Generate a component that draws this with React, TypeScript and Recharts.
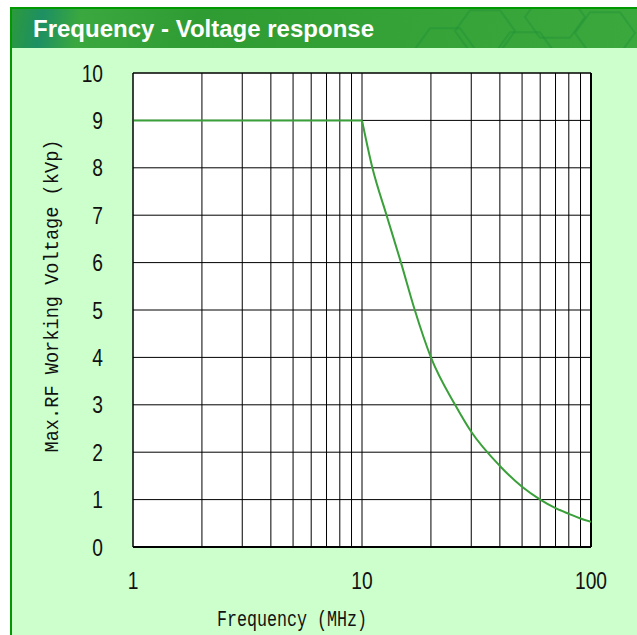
import { CartesianGrid, Label, Line, LineChart, ReferenceLine, XAxis, YAxis } from "recharts";

// values
const freqMHz = [1, 10, 11.1, 12.8, 14.8, 17, 20, 25.5, 30, 40, 50, 60, 70, 80, 90, 100];
const maxVoltage = [9, 9, 8, 7, 6, 5, 4, 3, 2.43, 1.71, 1.27, 1.0, 0.82, 0.7, 0.6, 0.53];
const rolloffStart = 10; // MHz, where the flat part ends

const xTicks = [1, 2, 3, 4, 5, 6, 7, 8, 9, 10, 20, 30, 40, 50, 60, 70, 80, 90, 100];
const xLabelled = [1, 10, 100];
const yTicks = [0, 1, 2, 3, 4, 5, 6, 7, 8, 9, 10];

// flat part drawn straight, roll-off drawn smooth
const chartData = freqMHz.map((f, i) => ({
  f,
  flat: f <= rolloffStart ? maxVoltage[i] : null,
  rolloff: f >= rolloffStart ? maxVoltage[i] : null,
}));

const sans = "'Liberation Sans', Arial, sans-serif";
const mono = "'Liberation Mono', 'DejaVu Sans Mono', monospace";
const frameGreen = "#009900";

function XTick(props: any) {
  const { x, y, payload } = props;
  const v = Number(payload.value);
  if (!xLabelled.includes(v)) return null;
  return (
    <g transform={`translate(${x},${y})`}>
      <text transform="scale(0.8,1)" textAnchor="middle" dy="0.71em" fontFamily={sans} fontSize={24} fill="#111">
        {v}
      </text>
    </g>
  );
}

function YTick(props: any) {
  const { x, y, payload } = props;
  return (
    <g transform={`translate(${x},${y})`}>
      <text transform="scale(0.8,1)" textAnchor="end" dy="0.36em" fontFamily={sans} fontSize={24} fill="#111">
        {payload.value}
      </text>
    </g>
  );
}

function XTitle(props: any) {
  const vb = props.viewBox || {};
  const cx = vb.x + vb.width / 2 - 70;
  return (
    <text x={cx} y={626} textAnchor="middle" fontFamily={mono} fontSize={22} fill="#111"
      textLength={150} lengthAdjust="spacingAndGlyphs">
      Frequency (MHz)
    </text>
  );
}

function YTitle(props: any) {
  const vb = props.viewBox || {};
  const cy = vb.y + vb.height / 2 - 14;
  return (
    <text x={58} y={cy} transform={`rotate(-90, 58, ${cy})`} textAnchor="middle" fontFamily={mono}
      fontSize={20} fill="#111" textLength={313} lengthAdjust="spacingAndGlyphs">
      Max.RF Working Voltage (kVp)
    </text>
  );
}

function Hexes() {
  const hex = (cx: number, cy: number, r: number) =>
    [0, 1, 2, 3, 4, 5]
      .map((k) => {
        const a = (Math.PI / 3) * k;
        return `${cx + r * Math.cos(a)},${cy + r * Math.sin(a) * 0.8}`;
      })
      .join(" ");
  return (
    <svg width={637} height={42} style={{ position: "absolute", left: 0, top: 0 }}>
      {[[495, 22], [565, 8], [615, 24], [455, 40], [535, 44]].map(([x, y], i) => (
        <polygon key={i} points={hex(x - 10, y, 30)} fill="none" stroke="#1f8f3a" strokeOpacity={0.4} strokeWidth={2} />
      ))}
    </svg>
  );
}

export default function App() {
  return (
    <div style={{ position: "absolute", left: 0, top: 0, width: 637, height: 635, background: "#fff", overflow: "hidden" }}>
      <div
        style={{
          position: "absolute",
          left: 10,
          top: 7,
          width: 640,
          height: 640,
          borderLeft: `2px solid ${frameGreen}`,
          borderTop: `2px solid ${frameGreen}`,
          background: "#ccffcc",
        }}
      />
      <div
        style={{
          position: "absolute",
          left: 12,
          top: 9,
          width: 625,
          height: 39,
          overflow: "hidden",
          background:
            "linear-gradient(100deg, #2c9a3c 0%, #1d8f63 5%, #3aa83e 11%, #2f9c33 30%, #34a236 60%, #3aa83c 100%)",
        }}
      >
        <div style={{ position: "relative", left: -12 }}>
          <Hexes />
        </div>
        <div
          style={{
            position: "absolute",
            left: 21,
            top: 6,
            color: "#fff",
            fontFamily: sans,
            fontWeight: "bold",
            fontSize: 24,
            lineHeight: "28px",
            whiteSpace: "nowrap",
          }}
        >
          Frequency - Voltage response
        </div>
      </div>
      <LineChart
        width={637}
        height={635}
        data={chartData}
        margin={{ top: 73, right: 46, bottom: 0, left: 0 }}
        style={{ position: "absolute", left: 0, top: 0 }}
      >
        <CartesianGrid stroke="#000" strokeWidth={1} fill="#fff" fillOpacity={1} />
        <XAxis
          dataKey="f"
          type="number"
          scale="log"
          domain={[1, 100]}
          ticks={xTicks}
          interval={0}
          allowDataOverflow
          tickLine={false}
          tickSize={0}
          tickMargin={25}
          height={88}
          axisLine={{ stroke: "#000", strokeWidth: 2 }}
          tick={<XTick />}
        >
          <Label content={XTitle} />
        </XAxis>
        <YAxis
          type="number"
          domain={[0, 10]}
          ticks={yTicks}
          interval={0}
          width={133}
          tickLine={false}
          tickSize={0}
          tickMargin={30}
          axisLine={{ stroke: "#000", strokeWidth: 1 }}
          tick={<YTick />}
        >
          <Label content={YTitle} />
        </YAxis>
        <ReferenceLine x={100} stroke="#000" strokeWidth={2} />
        <ReferenceLine y={10} stroke="#000" strokeWidth={1} />
        <Line type="linear" dataKey="flat" stroke="#3aa03a" strokeWidth={2} dot={false} isAnimationActive={false} />
        <Line type="monotone" dataKey="rolloff" stroke="#3aa03a" strokeWidth={2} dot={false} isAnimationActive={false} />
      </LineChart>
    </div>
  );
}
